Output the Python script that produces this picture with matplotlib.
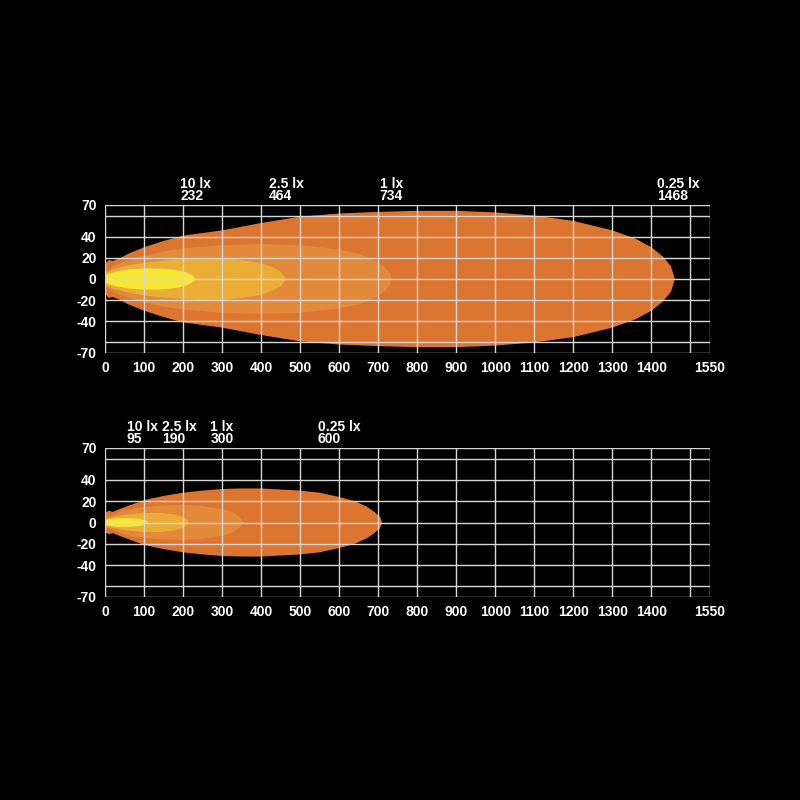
import matplotlib
matplotlib.use("Agg")
import matplotlib.pyplot as plt
import numpy as np

plt.rcParams['font.family'] = ['Liberation Sans', 'DejaVu Sans']

# Beam contours: distance (m) and half-width (m)
top_x_025 = [0, 10, 20, 40, 60, 100, 150, 200, 300, 400, 500, 600, 700, 800, 900, 1000, 1100, 1200, 1300, 1360, 1400, 1430, 1450, 1460]
top_w_025 = [14, 18, 17, 20, 24, 30, 36, 41, 46, 53, 59, 62, 63.5, 64.5, 64.5, 63, 60, 55, 46, 38, 30, 21, 12, 0]
top_x_1 = [0, 20, 40, 60, 100, 150, 200, 300, 400, 500, 600, 650, 690, 715, 730, 734]
top_w_1 = [6, 12, 15, 18, 22, 26, 29, 32, 33, 32, 28, 24, 18, 12, 6, 0]
top_x_25 = [0, 20, 40, 60, 100, 150, 200, 250, 300, 350, 400, 430, 450, 464]
top_w_25 = [5, 9, 11, 13, 15.5, 17.5, 19, 20, 19.5, 18, 15, 11, 7, 0]
top_x_10 = [0, 10, 30, 60, 100, 130, 160, 190, 210, 225, 232]
top_w_10 = [3, 5, 7, 9, 10, 10, 9.5, 8, 6, 3, 0]

bot_x_025 = [0, 10, 20, 40, 70, 100, 150, 200, 250, 300, 350, 400, 450, 500, 550, 600, 640, 670, 690, 705, 710]
bot_w_025 = [9, 11, 10, 13, 17, 21, 25, 28, 30, 31.5, 32, 32, 31, 30, 28, 24, 20, 15, 10, 5, 0]
bot_x_1 = [0, 20, 40, 70, 100, 150, 200, 250, 300, 330, 345, 355]
bot_w_1 = [4, 7, 10, 13, 14.5, 16, 16.5, 15.5, 12.5, 9, 5, 0]
bot_x_25 = [0, 20, 40, 70, 100, 140, 180, 200, 210, 215]
bot_w_25 = [3, 5, 6.5, 8, 9, 9, 7.5, 5, 3, 0]
bot_x_10 = [0, 10, 30, 60, 85, 100, 108, 110]
bot_w_10 = [2, 3, 4, 4, 3.5, 2.5, 1, 0]

top_labels = [("10 lx", "232", 232), ("2.5 lx", "464", 464), ("1 lx", "734", 734), ("0.25 lx", "1468", 1468)]
bot_labels = [("10 lx", "95", 95), ("2.5 lx", "190", 190), ("1 lx", "300", 300), ("0.25 lx", "600", 600)]

xticks = [0, 100, 200, 300, 400, 500, 600, 700, 800, 900, 1000, 1100, 1200, 1300, 1400, 1550]
yticks = [70, 40, 20, 0, -20, -40, -70]
xgrid = list(range(0, 1501, 100)) + [1550]
ygrid = [70, 60, 40, 20, 0, -20, -40, -60, -70]

colors = ["#DB7530", "#E2893A", "#EAAE35", "#F7E634"]

fig = plt.figure(figsize=(8, 8), dpi=100, facecolor="black")

def draw(ax, contours, labels):
    ax.set_facecolor("black")
    ax.set_xlim(0, 1550)
    ax.set_ylim(-70, 70)
    for (xs, ws), c in zip(contours, colors):
        xs = np.array(xs, float); ws = np.array(ws, float)
        px = np.concatenate([xs, xs[::-1]])
        py = np.concatenate([ws, -ws[::-1]])
        ax.fill(px, py, color=c, lw=0, zorder=1)
    for g in xgrid:
        ax.axvline(g, color="#d8d8d8", lw=1, zorder=2)
    for g in ygrid:
        ax.axhline(g, color="#d8d8d8", lw=1, zorder=2)
    ax.set_xticks(xticks)
    ax.set_yticks(yticks)
    ax.set_yticklabels([str(v) for v in yticks])
    ax.tick_params(colors="white", labelsize=10, length=0, pad=6)
    for lbl in ax.get_xticklabels() + ax.get_yticklabels():
        lbl.set_color("white")
        lbl.set_fontweight("bold")
    for s in ax.spines.values():
        s.set_visible(False)
    for name, val, x in labels:
        ax.text(x, 72, name + "\n" + val, color="white", fontsize=10,
                fontweight="bold", ha="center", va="bottom",
                multialignment="left", linespacing=0.85)

ax1 = fig.add_axes([105/800, 1-353/800, 605/800, 148/800])
draw(ax1, [(top_x_025, top_w_025), (top_x_1, top_w_1), (top_x_25, top_w_25), (top_x_10, top_w_10)], top_labels)
ax2 = fig.add_axes([105/800, 1-597/800, 605/800, 149/800])
draw(ax2, [(bot_x_025, bot_w_025), (bot_x_1, bot_w_1), (bot_x_25, bot_w_25), (bot_x_10, bot_w_10)], bot_labels)

fig.savefig("out.png", dpi=100, facecolor="black")
